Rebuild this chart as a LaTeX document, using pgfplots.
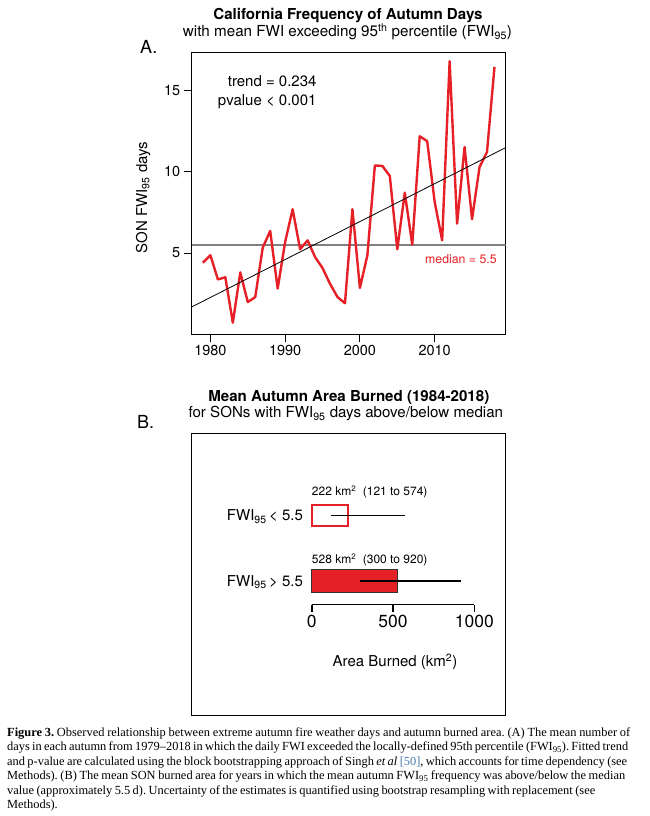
\documentclass[border=0pt]{standalone}
\usepackage{pgfplots}
\pgfplotsset{compat=1.18}
\usepackage{fontspec}
\setmainfont{TeX Gyre Heros}
\newfontfamily\capfont{Liberation Serif}
\definecolor{fwired}{RGB}{229,32,38}
\definecolor{medgray}{RGB}{128,128,128}
\definecolor{refblue}{RGB}{70,120,170}
\newcommand{\fs}[1]{\fontsize{#1}{#1}\selectfont}
\newcommand{\fwi}{FWI\textsubscript{95}}

% SON days with FWI above the 95th percentile
\pgfplotstableread{
year days
1979 4.40
1980 4.86
1981 3.37
1982 3.50
1983 0.70
1984 3.80
1985 1.97
1986 2.28
1987 5.33
1988 6.36
1989 2.80
1990 5.68
1991 7.70
1992 5.23
1993 5.78
1994 4.75
1995 4.07
1996 3.10
1997 2.28
1998 1.90
1999 7.70
2000 2.84
2001 4.86
2002 10.40
2003 10.37
2004 9.75
2005 5.23
2006 8.72
2007 5.51
2008 12.20
2009 11.90
2010 8.15
2011 5.78
2012 16.83
2013 6.81
2014 11.54
2015 7.08
2016 10.30
2017 11.23
2018 16.48
}\fwidays

\begin{document}
\frenchspacing
\begin{tikzpicture}
\useasboundingbox (0,0) rectangle (649pt,-816pt);

% ---- panel A
\node[anchor=base, inner sep=0, font=\fs{15.1}\bfseries] at (348pt,-20pt) {California Frequency of Autumn Days};
\node[anchor=base, inner sep=0, font=\fs{15.2}] at (347.5pt,-36.7pt) {with mean FWI exceeding 95\textsuperscript{th} percentile (\fwi)};
\node[anchor=base west, inner sep=0, font=\fs{18}] at (140pt,-53pt) {A.};

\begin{axis}[
  at={(191.7pt,-52pt)}, anchor=north west,
  scale only axis, width=314pt, height=282pt,
  xmin=1977.5, xmax=2019.5, ymin=0, ymax=17.4,
  xtick={1980,1990,2000,2010}, ytick={5,10,15},
  tick pos=left, tick align=outside, major tick length=8pt,
  tick style={black, line width=0.9pt},
  axis line style={line width=0.9pt},
  ticklabel style={font=\fs{14.5}},
  /pgf/number format/assume math mode=true,
  /pgf/number format/1000 sep={},
  ylabel={SON \fwi\ days},
  ylabel style={font=\fs{15}, at={(axis description cs:-0.155,0.484)}, anchor=center},
]
\addplot[medgray, line width=2pt] coordinates {(1977.5,5.5) (2019.5,5.5)};
\addplot[fwired, line width=2.4pt, line join=round] table[x=year, y=days] {\fwidays};
\addplot[black, line width=0.8pt] coordinates {(1977.5,1.67) (2019.5,11.5)};
\end{axis}

\node[anchor=base east, inner sep=0, font=\fs{15}] at (316.7pt,-86.7pt) {trend = 0.234};
\node[anchor=base east, inner sep=0, font=\fs{15}] at (316.7pt,-105.7pt) {pvalue < 0.001};
\node[anchor=base west, inner sep=0, font=\fs{12.3}, text=fwired] at (425pt,-263.3pt) {median = 5.5};

% ---- panel B
\node[anchor=base, inner sep=0, font=\fs{15.1}\bfseries] at (348.8pt,-401.7pt) {Mean Autumn Area Burned (1984-2018)};
\node[anchor=base, inner sep=0, font=\fs{15.1}] at (345.8pt,-417.7pt) {for SONs with \fwi\ days above/below median};
\node[anchor=base west, inner sep=0, font=\fs{18}] at (137pt,-428pt) {B.};

\begin{axis}[
  at={(191.7pt,-433.3pt)}, anchor=north west,
  scale only axis, width=314pt, height=281.7pt,
  xmin=-738, xmax=1193, ymin=-1.052, ymax=3.262,
  xtick=\empty, ytick=\empty,
  axis line style={line width=0.9pt},
  clip=false,
]
\addplot[xbar, bar shift=0pt, bar width=21pt, draw=fwired, line width=2.4pt, fill=white] coordinates {(222,2)};
\addplot[xbar, bar shift=0pt, bar width=22.4pt, draw=black!80, line width=0.8pt, fill=fwired] coordinates {(528,1)};
\addplot[black, line width=1.4pt] coordinates {(121,2) (574,2)};
\addplot[black, line width=1.4pt] coordinates {(300,1) (920,1)};
\node[anchor=base west, inner sep=0, font=\fs{12}] at (axis cs:0,2.31) {222 km\textsuperscript{2}\ \ (121 to 574)};
\node[anchor=base west, inner sep=0, font=\fs{12}] at (axis cs:0,1.27) {528 km\textsuperscript{2}\ \ (300 to 920)};
\node[anchor=base east, inner sep=0, font=\fs{15}] at (axis cs:-53,1.92) {\fwi\,< 5.5};
\node[anchor=base east, inner sep=0, font=\fs{15}] at (axis cs:-53,0.92) {\fwi\,> 5.5};
\end{axis}

\begin{axis}[
  at={(311.7pt,-604.5pt)}, anchor=south west,
  scale only axis, width=162.6pt, height=10pt,
  xmin=0, xmax=1000, ymin=0, ymax=1,
  axis x line*=bottom, axis y line=none,
  xtick={0,500,1000},
  tick align=outside, major tick length=7.5pt,
  axis line style={line width=1.6pt, -},
  tick style={black, line width=1.6pt},
  ticklabel style={font=\fs{17.5}},
  /pgf/number format/assume math mode=true,
  /pgf/number format/1000 sep={},
  xlabel={Area Burned (km\textsuperscript{2})},
  xlabel style={font=\fs{15}, at={(axis description cs:0.5,0)}, anchor=center, yshift=-57pt, xshift=2pt},
]
\end{axis}

% ---- caption
\begin{scope}[every node/.style={anchor=base west, inner sep=0, font=\capfont\fs{12.4}}]
\node at (7pt,-736.5pt) {\makebox[623pt][s]{\textbf{Figure 3.} Observed relationship between extreme autumn fire weather days and autumn burned area. (A) The mean number of}};
\node at (7pt,-750.9pt) {\makebox[621pt][s]{days in each autumn from 1979–2018 in which the daily FWI exceeded the locally-defined 95th percentile (\fwi). Fitted trend}};
\node at (7pt,-765.3pt) {\makebox[620pt][s]{and p-value are calculated using the block bootstrapping approach of Singh \textit{et al} \textcolor{refblue}{[50]}, which accounts for time dependency (see}};
\node at (7pt,-779.7pt) {\makebox[618pt][s]{Methods). (B) The mean SON burned area for years in which the mean autumn \fwi\ frequency was above/below the median}};
\node at (7pt,-794.1pt) {\makebox[588pt][s]{value (approximately 5.5 d). Uncertainty of the estimates is quantified using bootstrap resampling with replacement (see}};
\node at (7pt,-808.5pt) {Methods).};
\end{scope}
\end{tikzpicture}
\end{document}
